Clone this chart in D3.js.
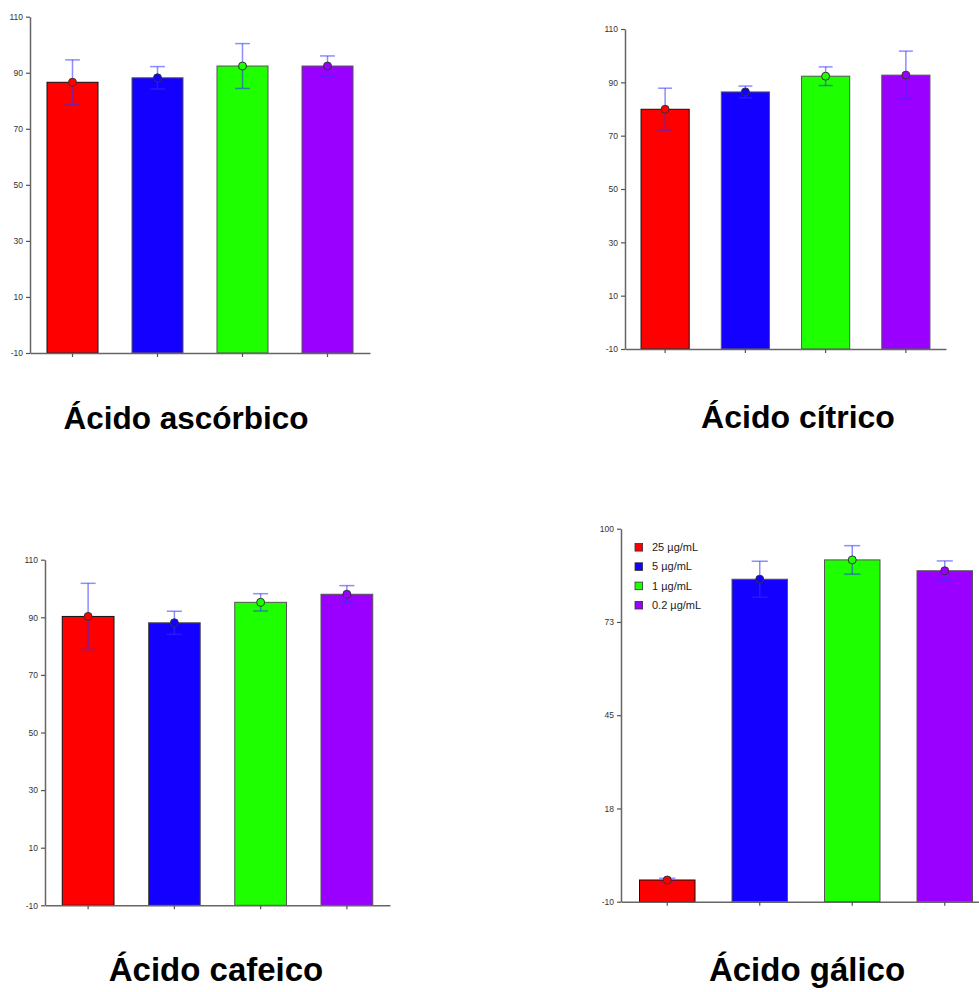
<!DOCTYPE html>
<html>
<head>
<meta charset="utf-8">
<script src="https://cdn.jsdelivr.net/npm/d3@7"></script>
<style>
  body { margin: 0; background: #fff; }
  svg { display: block; }
</style>
</head>
<body>
<script>
// concentrations shown in every panel
const concentrations = ["25 µg/mL", "5 µg/mL", "1 µg/mL", "0.2 µg/mL"];

// % values (mean, error)
const ascorbicMeans = [86.6, 88.2, 92.4, 92.4];
const ascorbicErrors = [8.0, 4.0, 8.0, 3.6];

const citricMeans = [79.9, 86.4, 92.3, 92.7];
const citricErrors = [7.9, 2.2, 3.5, 9.0];

const caffeicMeans = [90.3, 88.1, 95.2, 98.0];
const caffeicErrors = [11.5, 4.0, 3.0, 3.0];

const gallicMeans = [-3.6, 85.1, 90.8, 87.6];
const gallicErrors = [0.5, 5.3, 4.2, 2.9];

const ticks110 = [-10, 10, 30, 50, 70, 90, 110];
const ticks100 = [-10, 17.5, 45, 72.5, 100];

const colors = ["#ff0000", "#1400ff", "#1eff00", "#9900ff"];

const width = 979,
  height = 992;

const svg = d3
  .select("body")
  .append("svg")
  .attr("width", width)
  .attr("height", height)
  .style("font-family", "Arial, 'Liberation Sans', sans-serif");

const panels = [
  {
    title: "Ácido ascórbico", means: ascorbicMeans, errors: ascorbicErrors,
    x: [30, 370], y: [353, 16.7], domain: [-10, 110], ticks: ticks110,
    titleX: 186, titleY: 429, titleSize: 31.5,
  },
  {
    title: "Ácido cítrico", means: citricMeans, errors: citricErrors,
    x: [625, 946], y: [349, 29], domain: [-10, 110], ticks: ticks110,
    titleX: 798, titleY: 428, titleSize: 32,
  },
  {
    title: "Ácido cafeico", means: caffeicMeans, errors: caffeicErrors,
    x: [45, 390], y: [905.3, 559.7], domain: [-10, 110], ticks: ticks110,
    titleX: 216, titleY: 981, titleSize: 33,
  },
  {
    title: "Ácido gálico", means: gallicMeans, errors: gallicErrors,
    x: [621, 991], y: [901.7, 528.7], domain: [-10, 100], ticks: ticks100,
    titleX: 807, titleY: 981, titleSize: 33, legend: true,
  },
];

panels.forEach((p) => {
  const g = svg.append("g");

  const x = d3
    .scaleBand()
    .domain(d3.range(concentrations.length))
    .range(p.x)
    .paddingInner(0.4)
    .paddingOuter(0.2);

  const y = d3.scaleLinear().domain(p.domain).range(p.y);

  // bars
  g.selectAll("rect.bar")
    .data(p.means)
    .join("rect")
    .attr("class", "bar")
    .attr("x", (d, i) => x(i))
    .attr("y", (d) => y(d))
    .attr("width", x.bandwidth())
    .attr("height", (d) => y(p.domain[0]) - y(d))
    .attr("fill", (d, i) => colors[i])
    .attr("stroke", (d, i) => (i === 0 ? "#111" : "#555"))
    .attr("stroke-width", 1);

  // error bars
  const capW = x.bandwidth() * 0.145;
  const err = g
    .selectAll("g.err")
    .data(p.means)
    .join("g")
    .attr("class", "err")
    .attr("stroke", "#3030ff")
    .attr("stroke-opacity", 0.55)
    .attr("stroke-width", 1.5);

  err
    .append("line")
    .attr("x1", (d, i) => x(i) + x.bandwidth() / 2)
    .attr("x2", (d, i) => x(i) + x.bandwidth() / 2)
    .attr("y1", (d, i) => y(d + p.errors[i]))
    .attr("y2", (d, i) => y(d - p.errors[i]));

  [1, -1].forEach((s) => {
    err
      .append("line")
      .attr("x1", (d, i) => x(i) + x.bandwidth() / 2 - capW)
      .attr("x2", (d, i) => x(i) + x.bandwidth() / 2 + capW)
      .attr("y1", (d, i) => y(d + s * p.errors[i]))
      .attr("y2", (d, i) => y(d + s * p.errors[i]));
  });

  // mean points
  g.selectAll("circle")
    .data(p.means)
    .join("circle")
    .attr("cx", (d, i) => x(i) + x.bandwidth() / 2)
    .attr("cy", (d) => y(d))
    .attr("r", 4)
    .attr("fill", (d, i) => colors[i])
    .attr("stroke", "#333")
    .attr("stroke-width", 1);

  // axes
  const yAxis = g
    .append("g")
    .attr("transform", `translate(${p.x[0]},0)`)
    .call(
      d3
        .axisLeft(y)
        .tickValues(p.ticks)
        .tickFormat((d) => Math.round(d))
        .tickSize(4)
        .tickSizeOuter(0)
        .tickPadding(3),
    );

  const xAxis = g
    .append("g")
    .attr("transform", `translate(0,${p.y[0]})`)
    .call(
      d3
        .axisBottom(x)
        .tickFormat("")
        .tickSize(4)
        .tickSizeOuter(0),
    );

  [yAxis, xAxis].forEach((a) => {
    a.select(".domain").attr("stroke", "#666").attr("stroke-width", 1.5);
    a.selectAll(".tick line").attr("stroke", "#555").attr("stroke-width", 1.2);
    a.selectAll(".tick text")
      .attr("fill", "#333")
      .style("font-size", "8.5px")
      .style("font-family", "Arial, 'Liberation Sans', sans-serif");
  });

  // caption
  svg
    .append("text")
    .attr("x", p.titleX)
    .attr("y", p.titleY)
    .attr("text-anchor", "middle")
    .attr("font-size", `${p.titleSize}px`)
    .attr("font-weight", "bold")
    .attr("fill", "#000")
    .text(p.title);

  if (p.legend) {
    const lg = g
      .selectAll("g.legend")
      .data(concentrations)
      .join("g")
      .attr("class", "legend")
      .attr("transform", (d, i) => `translate(635,${547.3 + i * 19.3})`);

    lg.append("rect")
      .attr("x", 0)
      .attr("y", -3.8)
      .attr("width", 7.6)
      .attr("height", 7.6)
      .attr("fill", (d, i) => colors[i])
      .attr("stroke", "#333")
      .attr("stroke-width", 0.8);

    lg.append("text")
      .attr("x", 17)
      .attr("y", 0)
      .attr("dy", "0.35em")
      .attr("font-size", "11px")
      .attr("fill", "#222")
      .text((d) => d);
  }
});
</script>
</body>
</html>
